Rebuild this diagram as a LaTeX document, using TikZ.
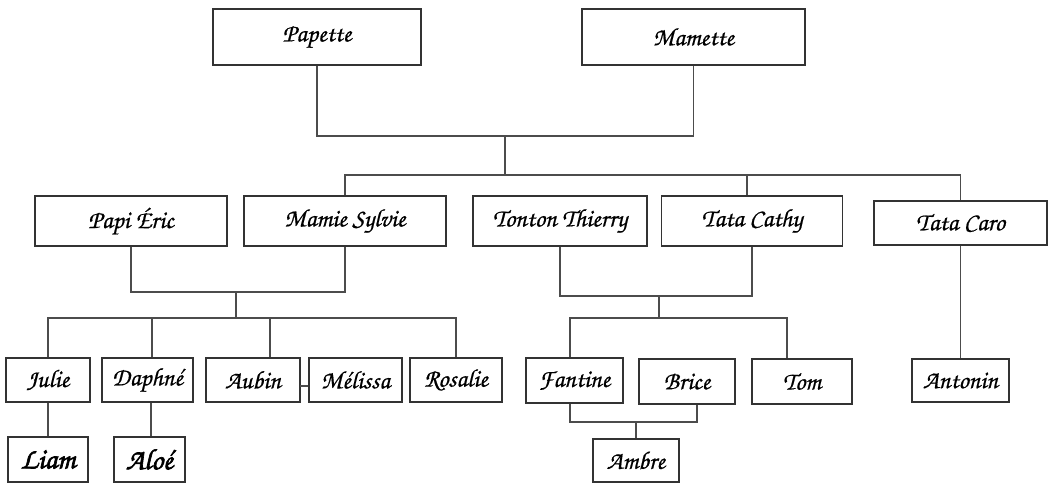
\documentclass[tikz,border=0pt]{standalone}
\usepackage{fontspec}
\newfontfamily\chorusfont{texgyrechorus-mediumitalic.otf}[FakeBold=0.6]
\newfontfamily\chorusbold{texgyrechorus-mediumitalic.otf}[FakeBold=2.2]
\newcommand\famfont{\chorusfont\fontsize{19}{22}\selectfont}
\newcommand\famfontbig{\chorusbold\fontsize{22}{25}\selectfont}
\tikzset{
  person/.style 2 args={draw=black!80, line width=0.9pt, fill=white, inner sep=0pt,
    font=\famfont, minimum width=#1*0.75pt, minimum height=#2*0.75pt},
  link/.style={draw=black!70, line width=0.8pt}
}
\begin{document}
\begin{tikzpicture}[x=0.75pt,y=-0.75pt]
\useasboundingbox (0,0) rectangle (1051,483);
% generation 1
\node[person={208}{56}] (papette) at (317,37) {Papette};
\node[person={223}{56}] (mamette) at (693.5,37) {Mamette};
% generation 2
\node[person={192}{50}] (eric) at (131,221) {Papi Éric};
\node[person={202}{50}] (mamie) at (345,221) {Mamie Sylvie};
\node[person={174}{50}] (thierry) at (560,221) {Tonton Thierry};
\node[person={181}{50}] (tcathy) at (752,221) {Tata Cathy};
\node[person={173}{44}] (tcaro) at (960.5,223) {Tata Caro};
% generation 3
\node[person={84}{44}] (julie) at (48,380) {Julie};
\node[person={91}{44}] (daphne) at (147.5,380) {Daphné};
\node[person={94}{44}] (aubin) at (253,380) {Aubin};
\node[person={93}{44}] (melissa) at (355.5,380) {Mélissa};
\node[person={92}{44}] (rosalie) at (456,380) {Rosalie};
\node[person={97}{45}] (fantine) at (574.5,380.5) {Fantine};
\node[person={96}{45}] (brice) at (687,381.5) {Brice};
\node[person={100}{45}] (tom) at (802,381.5) {Tom};
\node[person={97}{43}] (antonin) at (960.5,380.5) {Antonin};
% generation 4
\node[person={80}{45}, font=\famfontbig] (liam) at (48,459.5) {Liam};
\node[person={71}{45}, font=\famfontbig] (aloe) at (149.5,459.5) {Aloé};
\node[person={86}{43}] (ambre) at (636,460.5) {Ambre};
% connectors
\coordinate (gp) at (505,136);
\coordinate (bus1) at (505,175);
\coordinate (k1) at (747,175);
\draw[link] (papette.south) |- (gp) -| (mamette.south);
\draw[link] (gp) -- (bus1);
\draw[link] (mamie.north) |- (bus1) -| (tcaro.north);
\draw[link] (k1) -- (k1 |- tcathy.north);
% Eric + Sylvie
\coordinate (es) at (236,292);
\coordinate (bus2) at (236,318);
\coordinate (kd) at (152,318);
\coordinate (ka) at (270,318);
\draw[link] (eric.south) |- (es) -| (mamie.south);
\draw[link] (es) -- (bus2);
\draw[link] (julie.north) |- (bus2) -| (rosalie.north);
\draw[link] (kd) -- (kd |- daphne.north);
\draw[link] (ka) -- (ka |- aubin.north);
\coordinate (am) at (300,386);
\draw[link] (am) -- (am -| melissa.west);
\draw[link] (julie.south) -- (liam.north);
\coordinate (da) at (151,0);
\draw[link] (da |- daphne.south) -- (da |- aloe.north);
% Thierry + Cathy
\coordinate (tc) at (659,296);
\coordinate (bus3) at (659,318);
\coordinate (b3l) at (570,318);
\coordinate (b3r) at (787,318);
\draw[link] (thierry.south) |- (tc) -| (tcathy.south);
\draw[link] (tc) -- (bus3);
\draw[link] (b3l |- fantine.north) -- (b3l) -- (b3r) -- (b3r |- tom.north);
% Fantine + Brice
\coordinate (fb) at (636,422);
\coordinate (fl) at (570,422);
\coordinate (fr) at (697,422);
\draw[link] (fl |- fantine.south) -- (fl) -- (fr) -- (fr |- brice.south);
\draw[link] (fb) -- (ambre.north);
% Tata Caro
\draw[link] (tcaro.south) -- (antonin.north);
\end{tikzpicture}
\end{document}
